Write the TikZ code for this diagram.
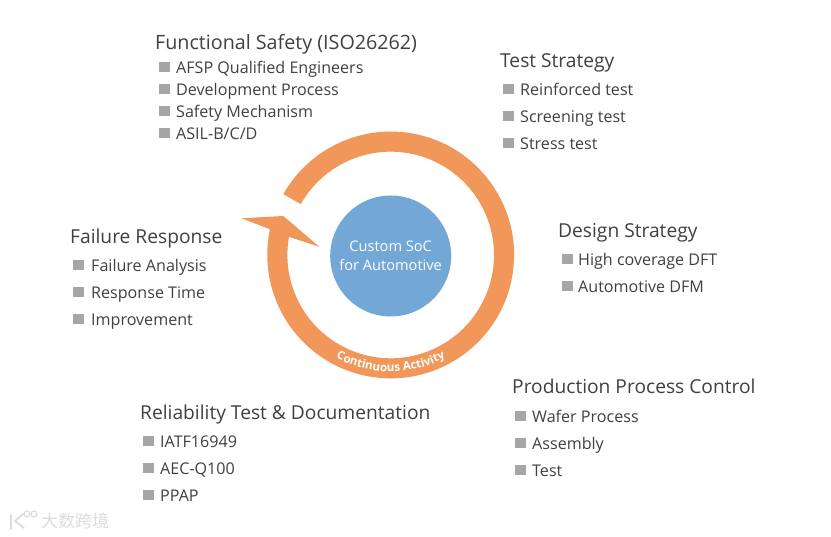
\documentclass[tikz,border=0pt]{standalone}
\usepackage{fontspec}
\setmainfont{Open Sans}
\newfontfamily\cjkf{Noto Sans CJK SC}
\usetikzlibrary{decorations.text}
\definecolor{ringc}{HTML}{F1975A}
\definecolor{socc}{HTML}{72A7D6}
\definecolor{txt}{HTML}{404040}
\definecolor{sqc}{HTML}{A6A6A6}
\definecolor{wm}{HTML}{DCDCDC}
\tikzset{
 hd/.style={anchor=base west,inner sep=0pt,text=txt,font=\fontsize{19.2pt}{22pt}\selectfont},
 itm/.style={anchor=base west,inner sep=0pt,text=txt,font=\fontsize{16.1pt}{18pt}\selectfont},
 sq/.style={fill=sqc,draw=none,minimum size=10.5pt,inner sep=0pt,anchor=west},
}
\newcommand{\HD}[4]{\node[hd] (#1) at (#2,{537-#3}) {#4};}
\newcommand{\ITM}[5]{% name, sq x, text x, y centre, text
 \node[sq] (#1s) at (#2,{537-#4}) {};
 \node[itm] (#1) at (#3,{537-#4-6.2}) {#5};}
\begin{document}
\begin{tikzpicture}[x=1pt,y=1pt]
\useasboundingbox (0,0) rectangle (831,537);
\fill[white] (0,0) rectangle (831,537);
\coordinate (c) at (390.7,282);
% ring with arrow head
\fill[ringc] (c) ++(150.5:103.3) arc[start angle=150.5,end angle=-190.1,radius=103.3]
  -- (319.3,{537-246.7}) -- (283.3,{537-216}) -- (241.7,{537-218.3}) -- (270,{537-229.3})
  arc[start angle=168,end angle=510.5,radius=123.4] -- cycle;
\node[circle,fill=socc,minimum size=121pt,inner sep=0pt,text=white,align=center,
  font=\fontsize{14.6pt}{19.3pt}\selectfont] (soc) at (390.7,281) {Custom SoC\\for Automotive};
\path[decorate,decoration={text along path,text align=center,
  text={|\fontsize{11.6pt}{12pt}\selectfont\bfseries\color{white}|Continuous Activity}}]
  (c) ++(-125:116.5) arc[start angle=-125,end angle=-55,radius=116.5];
%
\node[hd,font=\fontsize{19.7pt}{22pt}\selectfont] (h1) at (155,{537-50}) {Functional Safety (ISO26262)};
\ITM{a1}{159}{176}{67}{AFSP Qualified Engineers}
\ITM{a2}{159}{176}{89}{Development Process}
\ITM{a3}{159}{176}{111}{Safety Mechanism}
\ITM{a4}{159}{176}{133}{ASIL-B/C/D}
\HD{h2}{500}{68}{Test Strategy}
\ITM{b1}{503}{520}{89}{Reinforced test}
\ITM{b2}{503}{520}{116}{Screening test}
\ITM{b3}{503}{520}{143}{Stress test}
\HD{h3}{558}{238}{Design Strategy}
\ITM{c1}{562}{578}{259}{High coverage DFT}
\ITM{c2}{562}{578}{286}{Automotive DFM}
\HD{h4}{70}{244}{Failure Response}
\ITM{d1}{73}{91}{265}{Failure Analysis}
\ITM{d2}{73}{91}{292}{Response Time}
\ITM{d3}{73}{91}{319}{Improvement}
\HD{h5}{512}{394}{Production Process Control}
\ITM{e1}{515}{532}{416}{Wafer Process}
\ITM{e2}{515}{532}{443}{Assembly}
\ITM{e3}{515}{532}{470}{Test}
\HD{h6}{140}{420}{Reliability Test \& Documentation}
\ITM{f1}{143}{160}{441}{IATF16949}
\ITM{f2}{143}{160}{468}{AEC-Q100}
\ITM{f3}{143}{160}{495}{PPAP}
% watermark
\node[anchor=west,inner sep=0pt,text=wm,font=\cjkf\fontsize{17pt}{19pt}\selectfont] (wmt) at (41,{537-521}) {大数跨境};
\draw[wm,line width=1.8pt,line cap=round] (11,{537-515}) -- (11,{537-529});
\draw[wm,line width=1.8pt,line cap=round,line join=round] (23,{537-514}) -- (15,{537-521}) -- (24,{537-528});
\draw[wm,line width=1.2pt] (27,{537-514}) circle[radius=3];
\draw[wm,line width=1.2pt] (34,{537-514}) circle[radius=3];
\end{tikzpicture}
\end{document}
